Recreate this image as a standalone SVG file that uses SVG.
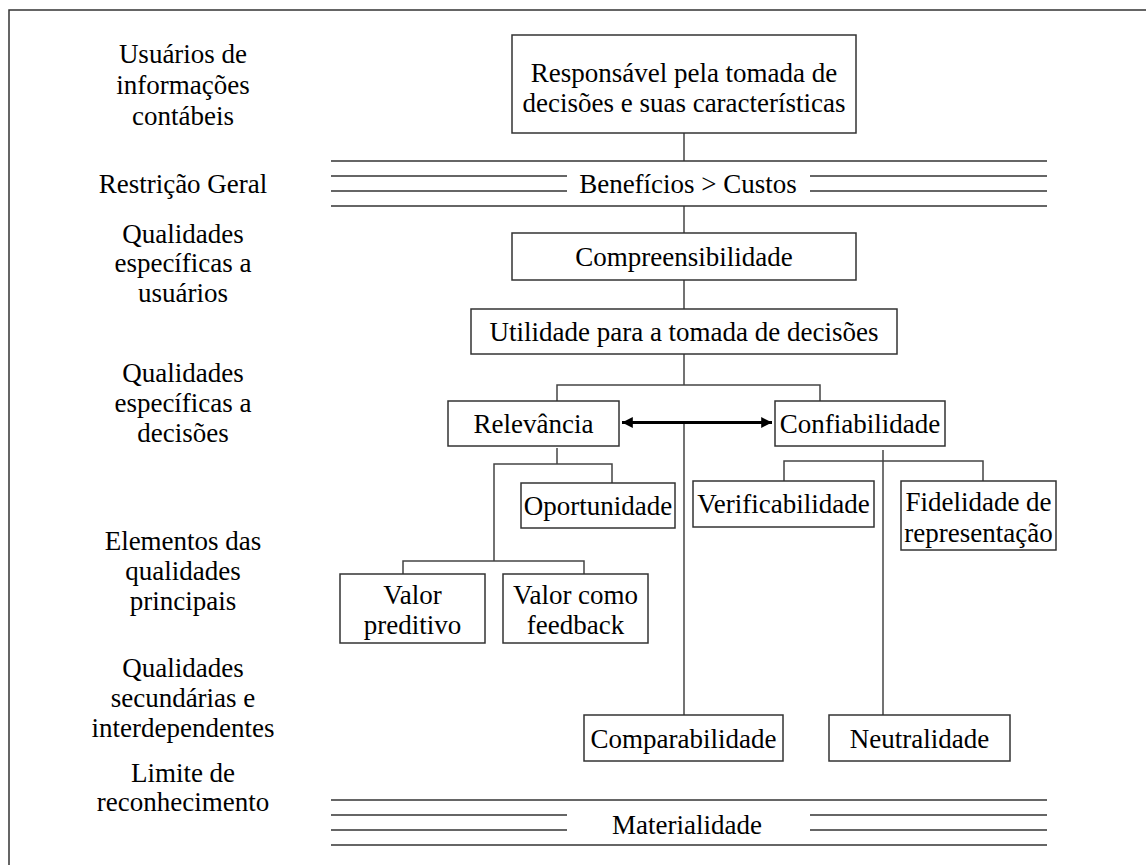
<svg xmlns="http://www.w3.org/2000/svg" width="1146" height="865" viewBox="0 0 1146 865">
<defs>
<style>
text{font-family:"Liberation Serif","Times New Roman",serif;font-size:27px;fill:#000;text-anchor:middle}
.box{fill:#fff;stroke:#333;stroke-width:1.5}
.ln{stroke:#444;stroke-width:1.5;fill:none}
.band{stroke:#333;stroke-width:1.5}
.arr{stroke:#000;stroke-width:3;fill:none}
</style>
<marker id="ah" viewBox="0 0 10 10" refX="10" refY="5" markerWidth="4" markerHeight="3.6" orient="auto-start-reverse" markerUnits="strokeWidth">
<path d="M0,0 L10,5 L0,10 z" fill="#000"/>
</marker>
</defs>
<rect width="1146" height="865" fill="#fff"/>
<path d="M9,865 L9,10 L1146,10" fill="none" stroke="#333" stroke-width="1.5"/>

<g id="labels">
<text x="183" y="63">Usuários de</text>
<text x="183" y="94">informações</text>
<text x="183" y="125">contábeis</text>
<text x="183" y="193">Restrição Geral</text>
<text x="183" y="243">Qualidades</text>
<text x="183" y="272">específicas a</text>
<text x="183" y="302">usuários</text>
<text x="183" y="382">Qualidades</text>
<text x="183" y="412">específicas a</text>
<text x="183" y="442">decisões</text>
<text x="183" y="550">Elementos das</text>
<text x="183" y="580">qualidades</text>
<text x="183" y="610">principais</text>
<text x="183" y="677">Qualidades</text>
<text x="183" y="707">secundárias e</text>
<text x="183" y="737">interdependentes</text>
<text x="183" y="782">Limite de</text>
<text x="183" y="811">reconhecimento</text>
</g>

<g id="connectors">
<line class="ln" x1="684" y1="133" x2="684" y2="161"/>
<line class="ln" x1="684" y1="206" x2="684" y2="233"/>
<line class="ln" x1="684" y1="280" x2="684" y2="309"/>
<line class="ln" x1="684" y1="354" x2="684" y2="385"/>
<polyline class="ln" points="557,401 557,385 820,385 820,401"/>
<line class="ln" x1="684" y1="422" x2="684" y2="715"/>
<line class="ln" x1="557" y1="448" x2="557" y2="464"/>
<polyline class="ln" points="494,561 494,464 612,464 612,483"/>
<polyline class="ln" points="403,574 403,561 584,561 584,574"/>
<line class="ln" x1="883" y1="450" x2="883" y2="715"/>
<polyline class="ln" points="784,481 784,461 983,461 983,481"/>
<line class="arr" x1="622" y1="422.5" x2="772" y2="422.5" marker-start="url(#ah)" marker-end="url(#ah)"/>
</g>

<g id="band-beneficios">
<line class="band" x1="331" y1="161" x2="1047" y2="161"/>
<line class="band" x1="331" y1="176" x2="567" y2="176"/>
<line class="band" x1="810" y1="176" x2="1047" y2="176"/>
<line class="band" x1="331" y1="191" x2="567" y2="191"/>
<line class="band" x1="810" y1="191" x2="1047" y2="191"/>
<line class="band" x1="331" y1="206" x2="1047" y2="206"/>
<text x="688" y="193">Benefícios &gt; Custos</text>
</g>

<g id="band-materialidade">
<line class="band" x1="331" y1="800" x2="1047" y2="800"/>
<line class="band" x1="331" y1="815" x2="567" y2="815"/>
<line class="band" x1="810" y1="815" x2="1047" y2="815"/>
<line class="band" x1="331" y1="830" x2="567" y2="830"/>
<line class="band" x1="810" y1="830" x2="1047" y2="830"/>
<line class="band" x1="331" y1="845" x2="1047" y2="845"/>
<text x="687" y="834">Materialidade</text>
</g>

<g id="responsavel">
<rect class="box" x="512" y="35" width="344" height="98"/>
<text x="684" y="82">Responsável pela tomada de</text>
<text x="684" y="112">decisões e suas características</text>
</g>

<g id="compreensibilidade">
<rect class="box" x="512" y="233" width="344" height="47"/>
<text x="684" y="266">Compreensibilidade</text>
</g>

<g id="utilidade">
<rect class="box" x="471" y="309" width="426" height="45"/>
<text x="684" y="341">Utilidade para a tomada de decisões</text>
</g>

<g id="relevancia">
<rect class="box" x="448" y="401" width="171" height="45"/>
<text x="533.5" y="433">Relevância</text>
</g>

<g id="confiabilidade">
<rect class="box" x="775" y="401" width="170" height="45"/>
<text x="860" y="433">Confiabilidade</text>
</g>

<g id="oportunidade">
<rect class="box" x="521" y="483" width="154" height="45"/>
<text x="598" y="515">Oportunidade</text>
</g>

<g id="verificabilidade">
<rect class="box" x="693" y="481" width="181" height="46"/>
<text x="783.5" y="513">Verificabilidade</text>
</g>

<g id="fidelidade">
<rect class="box" x="901" y="481" width="155" height="69"/>
<text x="978.5" y="511">Fidelidade de</text>
<text x="978.5" y="542">representação</text>
</g>

<g id="valor-preditivo">
<rect class="box" x="340" y="574" width="145" height="69"/>
<text x="412.5" y="604">Valor</text>
<text x="412.5" y="634">preditivo</text>
</g>

<g id="valor-feedback">
<rect class="box" x="503" y="574" width="145" height="69"/>
<text x="575.5" y="604">Valor como</text>
<text x="575.5" y="634">feedback</text>
</g>

<g id="comparabilidade">
<rect class="box" x="584" y="715" width="199" height="46"/>
<text x="683.5" y="748">Comparabilidade</text>
</g>

<g id="neutralidade">
<rect class="box" x="829" y="715" width="181" height="46"/>
<text x="919.5" y="748">Neutralidade</text>
</g>
</svg>
